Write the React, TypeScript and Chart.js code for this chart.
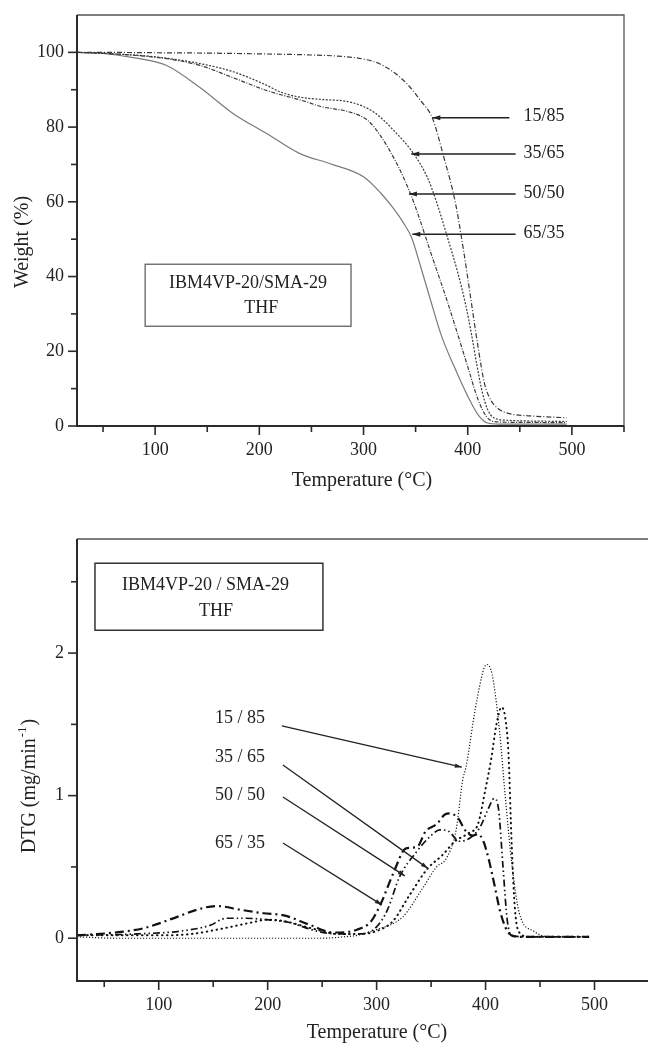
import React, { useEffect, useRef } from 'react';
import { Chart, registerables } from 'chart.js';

Chart.register(...registerables);

const FONT = '"Liberation Serif", "Times New Roman", serif';

// ---------- TGA (top) data: temperature (°C) vs weight (%) ----------
const tgaSeriesNames = ['15/85', '35/65', '50/50', '65/35'];
const tgaT1585 = [25, 50, 100, 150, 200, 250, 280, 300, 315, 330, 342, 355, 366, 377, 388, 396, 403, 410, 416, 422, 430, 440, 460, 480, 495];
const tgaW1585 = [100, 100, 99.9, 99.8, 99.6, 99.3, 98.9, 98.2, 97, 94.5, 91.5, 87, 82.5, 72, 60, 47, 34, 21, 11.5, 7, 4.5, 3.3, 2.7, 2.4, 2.2];
const tgaT3565 = [25, 60, 100, 143, 175, 207, 220, 239, 259, 287, 310, 329, 348, 361, 370, 380, 390, 398, 404, 409, 414, 419, 425, 440, 470, 495];
const tgaW3565 = [100, 99.6, 98.8, 97, 94.8, 91.2, 89.4, 88, 87.4, 86.7, 84, 79.1, 72.9, 66.7, 60, 51, 41.5, 32.5, 24, 16, 9, 4.5, 2.2, 1.5, 1.3, 1.2];
const tgaT5050 = [25, 60, 111, 143, 175, 207, 246, 259, 287, 304, 316, 332, 345, 352, 365, 380, 400, 410, 418, 425, 440, 495];
const tgaW5050 = [100, 99.6, 98.3, 96.5, 93.2, 89.8, 86.7, 85.5, 84, 81.8, 77.8, 70.2, 62.2, 56.9, 46, 33.7, 15.9, 7, 2.5, 1.2, 1, 0.9];
const tgaT6535 = [25, 50, 79, 111, 143, 175, 207, 239, 268, 300, 316, 328, 338, 346, 355, 364, 375, 387, 400, 410, 419, 430, 495];
const tgaW6535 = [100, 99.7, 98.6, 96.5, 90.6, 83.6, 78.3, 72.9, 70.2, 66.7, 62.5, 58.5, 54.5, 50.5, 42.5, 34, 24, 15.9, 8, 3, 0.8, 0.5, 0.5];

const tgaXLabels = [100, 200, 300, 400, 500];
const tgaXMinor = [50, 150, 250, 350, 450, 550];
const tgaYLabels = [0, 20, 40, 60, 80, 100];
const tgaYMinor = [10, 30, 50, 70, 90];

// arrows (data coordinates): tip T, y level, tail T
const tgaArrowTipT = [366, 345.8, 343.6, 346.8];
const tgaArrowY = [82.5, 72.8, 62.1, 51.3];
const tgaArrowTailT = [440, 446, 446, 446];
const tgaLabelT = 453.5;

// ---------- DTG (bottom) data: temperature (°C) vs DTG (mg/min) ----------
const dtgSeriesNames = ['15 / 85', '35 / 65', '50 / 50', '65 / 35'];
const dtgT1585 = [25, 60, 100, 150, 200, 250, 270, 282, 300, 324, 343, 355, 364, 373, 379, 382, 392, 401, 406, 413, 418, 424, 431, 444, 460, 495];
const dtg1585 = [0.01, 0.0, 0.0, 0.0, 0.0, 0.0, 0.01, 0.02, 0.06, 0.15, 0.36, 0.5, 0.56, 0.76, 1.11, 1.2, 1.67, 1.92, 1.85, 1.44, 1.0, 0.53, 0.175, 0.05, 0.01, 0.01];
const dtgT3565 = [25, 60, 100, 130, 160, 185, 200, 215, 240, 265, 285, 300, 315, 330, 347, 360, 372, 385, 393, 400, 405, 410, 414.6, 418, 421, 424, 427, 431, 440, 495];
const dtg3565 = [0.02, 0.02, 0.02, 0.03, 0.07, 0.11, 0.13, 0.12, 0.07, 0.03, 0.03, 0.05, 0.12, 0.3, 0.49, 0.58, 0.68, 0.74, 0.8, 1.05, 1.25, 1.5, 1.62, 1.55, 1.3, 0.65, 0.2, 0.04, 0.01, 0.01];
const dtgT5050 = [25, 80, 120, 147, 162, 180, 199, 220, 245, 265, 285, 300, 310, 321, 336, 350, 358, 366, 376, 385, 395, 402, 408, 412, 416, 420, 424, 435, 495];
const dtg5050 = [0.02, 0.03, 0.05, 0.09, 0.14, 0.14, 0.13, 0.11, 0.05, 0.03, 0.03, 0.08, 0.2, 0.43, 0.6, 0.72, 0.76, 0.75, 0.68, 0.7, 0.78, 0.9, 0.98, 0.9, 0.5, 0.12, 0.02, 0.01, 0.01];
const dtgT6535 = [25, 60, 86, 117, 135, 153, 175, 196, 215, 239, 260, 282, 295, 304, 315, 327, 337, 345, 355, 363, 367, 375, 381, 388, 393, 398, 403, 408, 413, 418, 422, 430, 495];
const dtg6535 = [0.02, 0.04, 0.07, 0.15, 0.2, 0.226, 0.2, 0.175, 0.16, 0.093, 0.04, 0.06, 0.12, 0.245, 0.45, 0.63, 0.64, 0.75, 0.8, 0.87, 0.876, 0.84, 0.76, 0.72, 0.73, 0.68, 0.55, 0.38, 0.2, 0.08, 0.03, 0.01, 0.01];

const dtgXLabels = [100, 200, 300, 400, 500];
const dtgXMinor = [50, 150, 250, 350, 450, 550];
const dtgYLabels = [0, 1, 2];
const dtgYMinor = [0.5, 1.5, 2.5];

const dtgLabelT = 174.5;
const dtgLabelY = [1.54, 1.27, 1.005, 0.668];
const dtgTailT = [213, 214, 214, 214];
const dtgTailY = [1.49, 1.215, 0.99, 0.668];
const dtgTipT = [378.2, 347, 325.9, 304.8];
const dtgTipY = [1.2, 0.49, 0.437, 0.234];

const TOP_CANVAS_Y = -9;
const BOT_CANVAS_Y = 508;

const pts = (xs: number[], ys: number[]) => xs.map((x, i) => ({ x, y: ys[i] }));

function drawArrow(ctx: CanvasRenderingContext2D, x1: number, y1: number, x2: number, y2: number, head: number, half: number) {
  ctx.beginPath();
  ctx.moveTo(x1, y1);
  ctx.lineTo(x2, y2);
  ctx.stroke();
  const a = Math.atan2(y2 - y1, x2 - x1);
  const bx = x2 - head * Math.cos(a);
  const by = y2 - head * Math.sin(a);
  ctx.beginPath();
  ctx.moveTo(x2, y2);
  ctx.lineTo(bx + half * Math.sin(a), by - half * Math.cos(a));
  ctx.lineTo(bx - half * Math.sin(a), by + half * Math.cos(a));
  ctx.closePath();
  ctx.fill();
}

function drawTicks(chart: any, xMajor: number[], xMinor: number[], yMajor: number[], yMinor: number[]) {
  const { ctx, chartArea: a, scales } = chart;
  const x = scales.x, y = scales.y;
  ctx.save();
  ctx.strokeStyle = '#2a2a2a';
  ctx.lineWidth = 1.6;
  const xt = (v: number, len: number) => {
    const px = x.getPixelForValue(v);
    ctx.beginPath(); ctx.moveTo(px, a.bottom); ctx.lineTo(px, a.bottom + len); ctx.stroke();
  };
  const yt = (v: number, len: number) => {
    const py = y.getPixelForValue(v);
    ctx.beginPath(); ctx.moveTo(a.left, py); ctx.lineTo(a.left - len, py); ctx.stroke();
  };
  xMajor.forEach(v => xt(v, 9));
  xMinor.forEach(v => xt(v, 6));
  yMajor.forEach(v => yt(v, 9));
  yMinor.forEach(v => yt(v, 6));
  ctx.restore();
}

function drawFrame(chart: any) {
  const { ctx, chartArea: a } = chart;
  ctx.save();
  ctx.strokeStyle = '#555';
  ctx.lineWidth = 1.3;
  ctx.beginPath();
  ctx.moveTo(a.left, a.top); ctx.lineTo(a.right, a.top); ctx.lineTo(a.right, a.bottom);
  ctx.stroke();
  ctx.strokeStyle = '#2a2a2a';
  ctx.lineWidth = 2;
  ctx.beginPath();
  ctx.moveTo(a.left, a.top); ctx.lineTo(a.left, a.bottom); ctx.lineTo(a.right, a.bottom);
  ctx.stroke();
  ctx.restore();
}

const topDecor = {
  id: 'topDecor',
  afterDraw(chart: any) {
    const { ctx, scales } = chart;
    const x = scales.x, y = scales.y;
    drawFrame(chart);
    drawTicks(chart, tgaXLabels, tgaXMinor, tgaYLabels, tgaYMinor);
    ctx.save();
    ctx.fillStyle = '#222';
    ctx.font = `20px ${FONT}`;
    ctx.textAlign = 'center';
    ctx.textBaseline = 'middle';
    ctx.fillText('Temperature (°C)', 362, 481 - TOP_CANVAS_Y);
    ctx.save();
    ctx.translate(23, 242 - TOP_CANVAS_Y);
    ctx.rotate(-Math.PI / 2);
    ctx.fillText('Weight (%)', 0, 0);
    ctx.restore();
    // box
    ctx.strokeStyle = '#555';
    ctx.lineWidth = 1.2;
    const bx1 = x.getPixelForValue(90.4), bx2 = x.getPixelForValue(288);
    const by1 = y.getPixelForValue(43.3), by2 = y.getPixelForValue(26.7);
    ctx.strokeRect(bx1, by1, bx2 - bx1, by2 - by1);
    ctx.font = `18px ${FONT}`;
    ctx.fillText('IBM4VP-20/SMA-29', (bx1 + bx2) / 2, y.getPixelForValue(38.3));
    ctx.fillText('THF', x.getPixelForValue(201.9), y.getPixelForValue(31.5));
    // arrows & labels
    ctx.strokeStyle = '#222';
    ctx.fillStyle = '#222';
    ctx.lineWidth = 1.4;
    ctx.textAlign = 'left';
    tgaSeriesNames.forEach((name, i) => {
      const py = y.getPixelForValue(tgaArrowY[i]);
      drawArrow(ctx, x.getPixelForValue(tgaArrowTailT[i]), py, x.getPixelForValue(tgaArrowTipT[i]), py, 8, 2.5);
      ctx.fillText(name, x.getPixelForValue(tgaLabelT), py - 1);
    });
    ctx.restore();
  },
};

const bottomDecor = {
  id: 'bottomDecor',
  afterDraw(chart: any) {
    const { ctx, scales } = chart;
    const x = scales.x, y = scales.y;
    drawFrame(chart);
    drawTicks(chart, dtgXLabels, dtgXMinor, dtgYLabels, dtgYMinor);
    ctx.save();
    ctx.fillStyle = '#222';
    ctx.font = `20px ${FONT}`;
    ctx.textAlign = 'center';
    ctx.textBaseline = 'middle';
    ctx.fillText('Temperature (°C)', 377, 1033 - BOT_CANVAS_Y);
    // rotated y title with superscript
    ctx.save();
    ctx.translate(30, 786 - BOT_CANVAS_Y);
    ctx.rotate(-Math.PI / 2);
    const main = 'DTG (mg/min';
    const sup = '-1';
    const close = ')';
    ctx.font = `20px ${FONT}`;
    const wMain = ctx.measureText(main).width;
    const wClose = ctx.measureText(close).width;
    ctx.font = `13px ${FONT}`;
    const wSup = ctx.measureText(sup).width + 2;
    const total = wMain + wSup + wClose;
    let cx = -total / 2;
    ctx.textAlign = 'left';
    ctx.font = `20px ${FONT}`;
    ctx.fillText(main, cx, 0);
    cx += wMain + 1;
    ctx.font = `13px ${FONT}`;
    ctx.fillText(sup, cx, -7);
    cx += wSup - 1;
    ctx.font = `20px ${FONT}`;
    ctx.fillText(close, cx, 0);
    ctx.restore();
    // box
    ctx.textAlign = 'center';
    ctx.strokeStyle = '#333';
    ctx.lineWidth = 1.5;
    const bx1 = x.getPixelForValue(41.5), bx2 = x.getPixelForValue(250.7);
    const by1 = y.getPixelForValue(2.63), by2 = y.getPixelForValue(2.16);
    ctx.strokeRect(bx1, by1, bx2 - bx1, by2 - by1);
    ctx.font = `18px ${FONT}`;
    ctx.fillText('IBM4VP-20 / SMA-29', x.getPixelForValue(142.9), y.getPixelForValue(2.476));
    ctx.fillText('THF', x.getPixelForValue(152.5), y.getPixelForValue(2.294));
    // arrows & labels
    ctx.strokeStyle = '#222';
    ctx.fillStyle = '#222';
    ctx.lineWidth = 1.3;
    dtgSeriesNames.forEach((name, i) => {
      ctx.fillText(name, x.getPixelForValue(dtgLabelT), y.getPixelForValue(dtgLabelY[i]));
      drawArrow(ctx, x.getPixelForValue(dtgTailT[i]), y.getPixelForValue(dtgTailY[i]),
        x.getPixelForValue(dtgTipT[i]), y.getPixelForValue(dtgTipY[i]), 7, 2.2);
    });
    ctx.restore();
  },
};

function scaleOpts(min: number, max: number, labels: number[], fit: (s: any) => void) {
  return {
    type: 'linear' as const,
    min,
    max,
    afterBuildTicks: (s: any) => { s.ticks = labels.map(v => ({ value: v })); },
    afterFit: fit,
    grid: { display: false, drawTicks: false },
    border: { display: false },
    ticks: {
      font: { family: FONT, size: 18 },
      color: '#222',
      padding: 13,
      maxRotation: 0,
      autoSkip: false,
      callback: (v: any) => String(v),
    },
  };
}

export default function App() {
  const topRef = useRef<HTMLCanvasElement>(null);
  const botRef = useRef<HTMLCanvasElement>(null);

  useEffect(() => {
    const top = new Chart(topRef.current!, {
      type: 'line',
      data: {
        datasets: [
          { label: tgaSeriesNames[0], data: pts(tgaT1585, tgaW1585), borderColor: '#3a3a3a', borderWidth: 1.2, borderDash: [5, 2, 1, 2] },
          { label: tgaSeriesNames[1], data: pts(tgaT3565, tgaW3565), borderColor: '#3a3a3a', borderWidth: 1.2, borderDash: [2, 1.5] },
          { label: tgaSeriesNames[2], data: pts(tgaT5050, tgaW5050), borderColor: '#3a3a3a', borderWidth: 1.2, borderDash: [4, 1.5, 1, 1.5] },
          { label: tgaSeriesNames[3], data: pts(tgaT6535, tgaW6535), borderColor: '#7a7a7a', borderWidth: 1.2 },
        ],
      },
      options: {
        animation: false,
        responsive: false,
        devicePixelRatio: 1,
        parsing: false as any,
        layout: { padding: { top: 15 - TOP_CANVAS_Y, right: 24, left: 0, bottom: 0 } },
        elements: { point: { radius: 0 }, line: { cubicInterpolationMode: 'monotone', fill: false } },
        plugins: { legend: { display: false }, tooltip: { enabled: false } },
        scales: {
          x: scaleOpts(25, 550, tgaXLabels, (s: any) => { s.height = 74; }),
          y: scaleOpts(0, 110, tgaYLabels, (s: any) => { s.width = 77; }),
        },
      },
      plugins: [topDecor],
    });

    const bot = new Chart(botRef.current!, {
      type: 'line',
      data: {
        datasets: [
          { label: dtgSeriesNames[0], data: pts(dtgT1585, dtg1585), borderColor: '#1a1a1a', borderWidth: 1.2, borderDash: [1.2, 1.8] },
          { label: dtgSeriesNames[1], data: pts(dtgT3565, dtg3565), borderColor: '#111', borderWidth: 2, borderDash: [0.5, 4.5], borderCapStyle: 'round' },
          { label: dtgSeriesNames[2], data: pts(dtgT5050, dtg5050), borderColor: '#111', borderWidth: 1.7, borderDash: [7, 3, 1.5, 3, 1.5, 3] },
          { label: dtgSeriesNames[3], data: pts(dtgT6535, dtg6535), borderColor: '#111', borderWidth: 2.2, borderDash: [9, 4, 2, 4] },
        ],
      },
      options: {
        animation: false,
        responsive: false,
        devicePixelRatio: 1,
        parsing: false as any,
        layout: { padding: { top: 31, right: 31, left: 0, bottom: 0 } },
        elements: { point: { radius: 0 }, line: { cubicInterpolationMode: 'monotone', fill: false } },
        plugins: { legend: { display: false }, tooltip: { enabled: false } },
        scales: {
          x: scaleOpts(25, 550, dtgXLabels, (s: any) => { s.height = 65; }),
          y: scaleOpts(-0.3, 2.8, dtgYLabels, (s: any) => { s.width = 77; }),
        },
      },
      plugins: [bottomDecor],
    });

    return () => { top.destroy(); bot.destroy(); };
  }, []);

  return (
    <div style={{ position: 'absolute', left: 0, top: 0, width: 648, height: 1046, overflow: 'hidden', background: '#fff' }}>
      <canvas ref={topRef} width={648} height={509} style={{ position: 'absolute', left: 0, top: TOP_CANVAS_Y, display: 'block' }} />
      <canvas ref={botRef} width={680} height={538} style={{ position: 'absolute', left: 0, top: BOT_CANVAS_Y, display: 'block' }} />
    </div>
  );
}
